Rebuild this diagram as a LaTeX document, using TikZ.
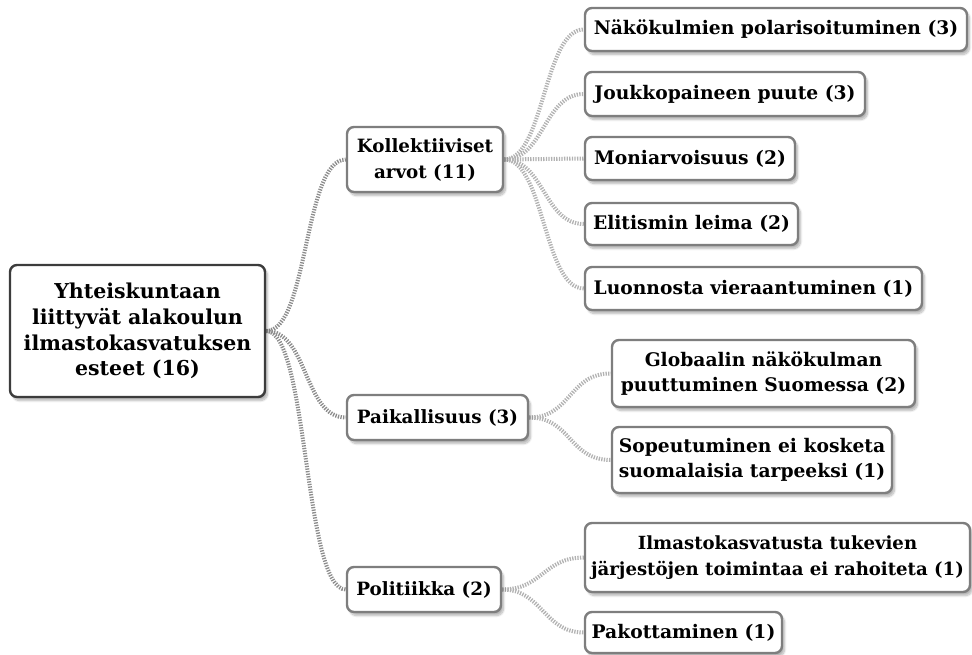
\documentclass[tikz,border=0pt]{standalone}
\usepackage{fontspec}
\setmainfont{DejaVu Serif}
\usetikzlibrary{shadows.blur,backgrounds}
\definecolor{rootborder}{HTML}{3C3C3C}
\definecolor{boxborder}{HTML}{7E7E7E}
\definecolor{linkdark}{HTML}{8C8C8C}
\definecolor{linklight}{HTML}{B2B2B2}
\tikzset{
  box/.style={draw=boxborder, line width=2.4pt, rounded corners=7pt, fill=white,
    align=center, text=black, inner sep=0pt,
    font=\fontsize{18.7}{25.5}\selectfont\bfseries,
    blur shadow={shadow xshift=2.5pt, shadow yshift=-3.5pt, shadow opacity=30, shadow blur steps=8}},
  widebox/.style={box, font=\fontsize{18.1}{25.5}\selectfont\bfseries},
  midbox/.style={box, font=\fontsize{18.3}{26}\selectfont\bfseries},
  rootbox/.style={box, draw=rootborder, font=\fontsize{20.5}{25.7}\selectfont\bfseries},
  link/.style={line width=4pt, dash pattern=on 1.3pt off 1.3pt},
  linkroot/.style={link, draw=linkdark},
  linkleaf/.style={link, draw=linklight}
}
\begin{document}
\begin{tikzpicture}[x=1pt,y=-1pt]
\useasboundingbox (0,0) rectangle (972,655);
% root
\node[rootbox, minimum width=255, minimum height=132] (root) at (137.5,331)
  {Yhteiskuntaan\\liittyvät alakoulun\\ilmastokasvatuksen\\esteet (16)};
% level 1
\node[midbox, minimum width=156, minimum height=65] (kol) at (425,159.5) {Kollektiiviset\\arvot (11)};
\node[midbox, minimum width=181, minimum height=45] (pai) at (437.5,417.5) {Paikallisuus (3)};
\node[midbox, minimum width=154, minimum height=45] (pol) at (424,589.5) {Politiikka (2)};
% leaves of Kollektiiviset
\node[box, minimum width=382, minimum height=43] (k1) at (776,29.5) {Näkökulmien polarisoituminen (3)};
\node[box, minimum width=280, minimum height=44] (k2) at (725,94) {Joukkopaineen puute (3)};
\node[box, minimum width=210, minimum height=43] (k3) at (690,158.5) {Moniarvoisuus (2)};
\node[box, minimum width=213, minimum height=42] (k4) at (691.5,224) {Elitismin leima (2)};
\node[box, minimum width=337, minimum height=43] (k5) at (753.5,288.5) {Luonnosta vieraantuminen (1)};
% leaves of Paikallisuus
\node[box, minimum width=303, minimum height=67] (p1) at (763.5,373.5) {Globaalin näkökulman\\puuttuminen Suomessa (2)};
\node[box, minimum width=280, minimum height=66] (p2) at (752,460) {Sopeutuminen ei kosketa\\suomalaisia tarpeeksi (1)};
% leaves of Politiikka
\node[widebox, minimum width=385, minimum height=69] (o1) at (777.5,557.5) {Ilmastokasvatusta tukevien\\järjestöjen toimintaa ei rahoiteta (1)};
\node[box, minimum width=197, minimum height=41] (o2) at (683.5,632.5) {Pakottaminen (1)};
% connectors
\begin{scope}[on background layer]
\draw[linkroot] (root.east) .. controls +(42,0) and +(-42,0) .. (kol.west);
\draw[linkroot] (root.east) .. controls +(42,0) and +(-42,0) .. (pai.west);
\draw[linkroot] (root.east) .. controls +(42,0) and +(-42,0) .. (pol.west);
\foreach \t in {k1,k2,k3,k4,k5}
  \draw[linkleaf] (kol.east) .. controls +(40,0) and +(-40,0) .. (\t.west);
\foreach \t in {p1,p2}
  \draw[linkleaf] (pai.east) .. controls +(42,0) and +(-42,0) .. (\t.west);
\foreach \t in {o1,o2}
  \draw[linkleaf] (pol.east) .. controls +(40,0) and +(-40,0) .. (\t.west);
\end{scope}
\end{tikzpicture}
\end{document}
